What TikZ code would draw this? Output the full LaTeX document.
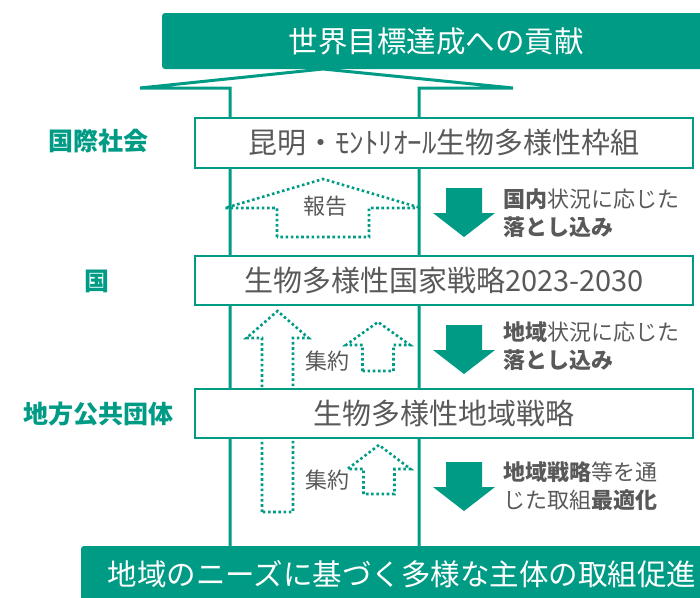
\documentclass[tikz,border=0pt]{standalone}
\usepackage{fontspec}
\setmainfont{Noto Sans CJK JP}
\usetikzlibrary{positioning}
\definecolor{kgreen}{RGB}{0,155,133}
\definecolor{kgray}{RGB}{89,89,89}
\tikzset{
  level/.style={draw=kgreen,line width=2.2pt,fill=white,minimum width=498pt,minimum height=50pt,
    text=kgray,font=\fontsize{29}{29}\selectfont,inner sep=0pt},
  band/.style={fill=kgreen,rounded corners=3pt,text=white,font=\fontsize{29.5}{29.5}\selectfont,inner sep=0pt},
  who/.style={text=kgreen,font=\bfseries\fontsize{25}{25}\selectfont},
  note/.style={text=kgray,align=left,anchor=west,inner sep=0pt,font=\fontsize{22}{28}\selectfont},
  tag/.style={text=kgray,font=\fontsize{22}{22}\selectfont},
  dotline/.style={draw=kgreen,line width=2.6pt,dash pattern=on 2.6pt off 2.6pt}
}
% filled arrow pointing down: centre x, top y
\newcommand{\fallarrow}[2]{
\fill[kgreen] (#1-18,#2) -- (#1+18,#2) -- (#1+18,#2+25) -- (#1+31,#2+25)
  -- (#1,#2+49) -- (#1-31,#2+25) -- (#1-18,#2+25) -- cycle;
}
% dotted arrow pointing up: centre x, tip y, head half, shaft half, head base y, bottom y
\newcommand{\riseup}[6]{
\draw[dotline] (#1-#4,#6) -- (#1-#4,#5) -- (#1-#3,#5) -- (#1,#2) -- (#1+#3,#5)
  -- (#1+#4,#5) -- (#1+#4,#6) -- cycle;
}

\begin{document}
\begin{tikzpicture}[x=1pt,y=-1pt]
\useasboundingbox (0,0) rectangle (700,597);
% big hollow arrow
\draw[kgreen,line width=3pt,line join=miter] (230,546) -- (230,88) -- (140,88) -- (323,69)
  -- (513,88) -- (419,88) -- (419,546);
\riseup{323}{179}{98}{46}{208}{237}
\riseup{277.5}{311}{31}{15.5}{338}{512}
\riseup{378}{322}{32}{15.5}{345}{371}
\riseup{379}{445}{31.5}{15.5}{469}{494}
\node[level] (cbd) at (444,143) {昆明・ﾓﾝﾄﾘｵｰﾙ生物多様性枠組};
\node[level,minimum height=49pt] (nbsap) at (444,280.5) {生物多様性国家戦略2023-2030};
\node[level,minimum height=49pt] (lbsap) at (444,413.5) {生物多様性地域戦略};
\node[band,minimum width=548pt,minimum height=56pt] (goal) at (436,41) {世界目標達成への貢献};
\node[band,minimum width=642pt,minimum height=56pt] (local) at (402,574) {地域のニーズに基づく多様な主体の取組促進};
\node[who] (intl) at (98,141) {国際社会};
\node[who] (national) at (97,281) {国};
\node[who] (municipal) at (98,414) {地方公共団体};
\node[tag] (report) at (325,206) {報告};
\node[tag] (gather1) at (327,361) {集約};
\node[tag] (gather2) at (327,480) {集約};
\fallarrow{464}{188}
\fallarrow{464}{325}
\fallarrow{464}{462}
\node[note] (down1) at (503,213) {\textbf{国内}状況に応じた\\\textbf{落とし込み}};
\node[note] (down2) at (503,346.5) {\textbf{地域}状況に応じた\\\textbf{落とし込み}};
\node[note] (down3) at (503,486) {\textbf{地域戦略}等を通\\じた取組\textbf{最適化}};
\end{tikzpicture}
\end{document}
